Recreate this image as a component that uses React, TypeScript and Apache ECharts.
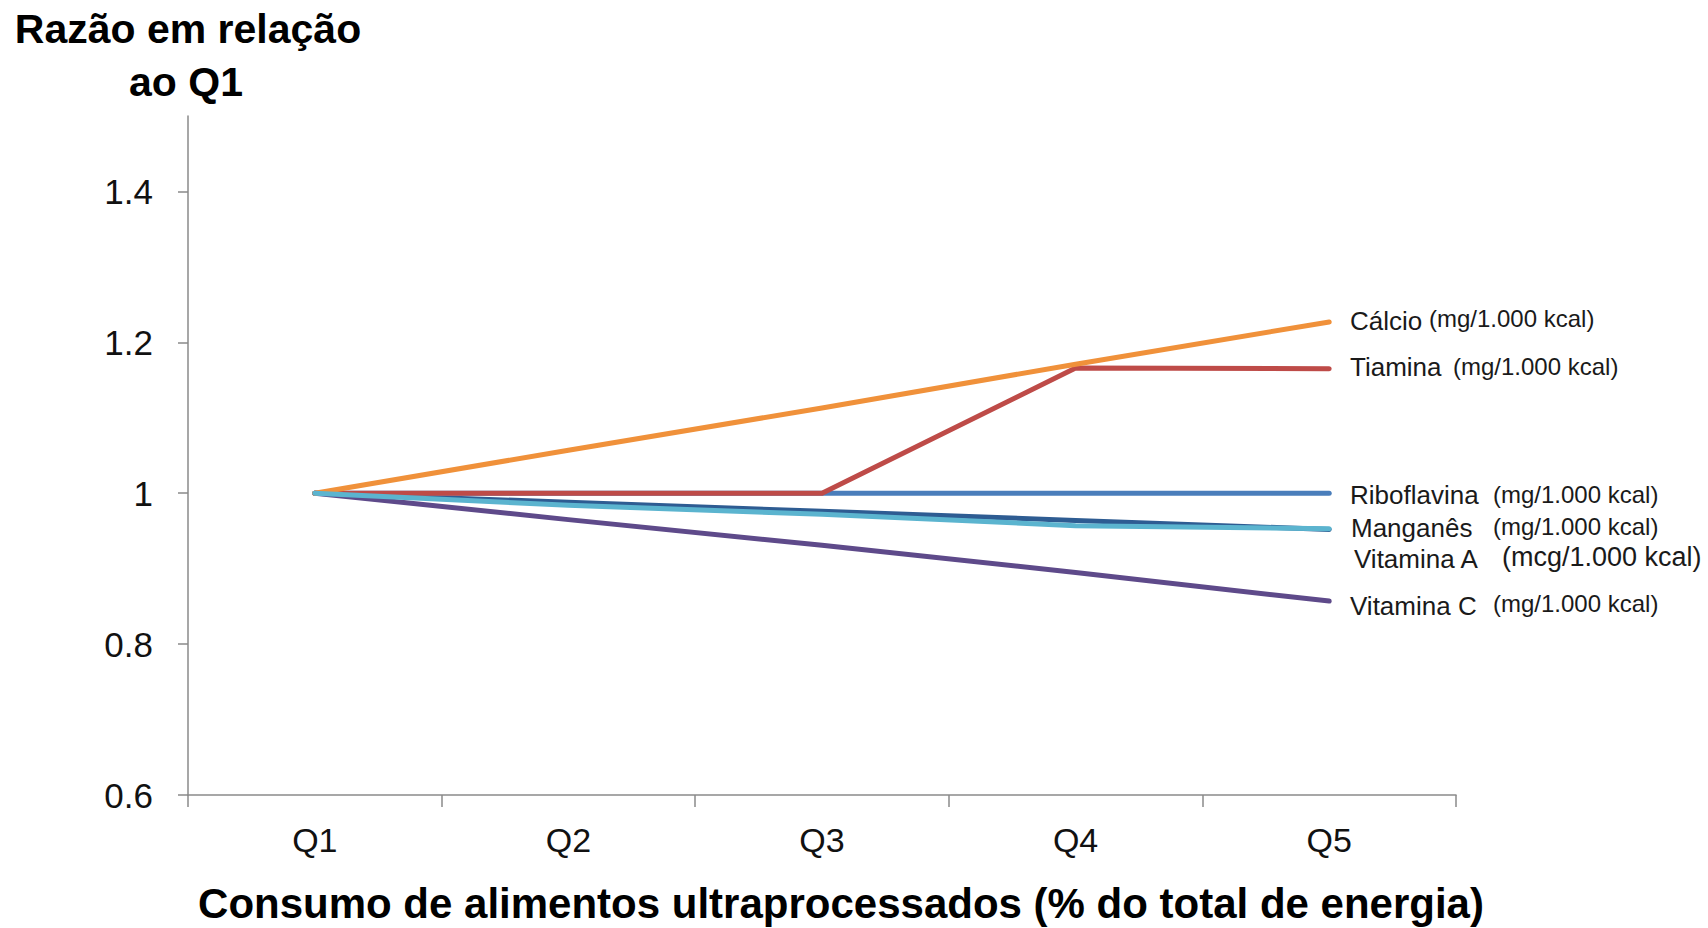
import React, { useEffect, useRef } from "react";
import * as echarts from "echarts";

const categories = ["Q1", "Q2", "Q3", "Q4", "Q5"];
const yTicks = [0.6, 0.8, 1, 1.2, 1.4];

const calcio = [1, 1.057, 1.113, 1.171, 1.227];
const tiamina = [1, 1, 1, 1.166, 1.165];
const riboflavina = [1, 1, 1, 1, 1];
const manganes = [1, 0.984, 0.972, 0.957, 0.953];
const vitaminaA = [1, 0.988, 0.976, 0.964, 0.952];
const vitaminaC = [1, 0.965, 0.931, 0.895, 0.857];

const seriesNames = ["Cálcio", "Tiamina", "Riboflavina", "Manganês", "Vitamina A", "Vitamina C"];
const seriesUnits = [
  "(mg/1.000 kcal)",
  "(mg/1.000 kcal)",
  "(mg/1.000 kcal)",
  "(mg/1.000 kcal)",
  "(mcg/1.000 kcal)",
  "(mg/1.000 kcal)",
];

const FONT = "'Liberation Sans', Arial, Helvetica, sans-serif";

export default function App() {
  const ref = useRef<HTMLDivElement>(null);

  useEffect(() => {
    if (!ref.current) return;
    const chart = echarts.init(ref.current, undefined, { renderer: "svg" });

    const mk = (name: string, data: number[], color: string, z: number) => ({
      name,
      type: "line",
      data,
      symbol: "none",
      z,
      lineStyle: { color, width: 5, cap: "round", join: "round" },
      itemStyle: { color },
    });

    // label layout (annotation text positions)
    const labelPos = [
      { nx: 1350, ux: 1429, y: 321, uy: 318, us: 24 },
      { nx: 1350, ux: 1453, y: 367, uy: 366, us: 24 },
      { nx: 1350, ux: 1493, y: 495, uy: 494, us: 24 },
      { nx: 1351, ux: 1493, y: 528, uy: 526, us: 24 },
      { nx: 1354, ux: 1502, y: 559, uy: 557, us: 27 },
      { nx: 1350, ux: 1493, y: 606, uy: 603, us: 24 },
    ];

    const labelGraphics: any[] = [];
    seriesNames.forEach((n, i) => {
      const p = labelPos[i];
      labelGraphics.push({
        type: "text",
        x: p.nx,
        y: p.y,
        style: {
          text: n,
          font: `26px ${FONT}`,
          fill: "#1a1a1a",
          textAlign: "left",
          textVerticalAlign: "middle",
        },
      });
      labelGraphics.push({
        type: "text",
        x: p.ux,
        y: p.uy,
        style: {
          text: seriesUnits[i],
          font: `${p.us}px ${FONT}`,
          fill: "#1a1a1a",
          textAlign: "left",
          textVerticalAlign: "middle",
        },
      });
    });

    chart.setOption({
      animation: false,
      backgroundColor: "#ffffff",
      grid: { left: 188, right: 252, top: 116, bottom: 133, containLabel: false },
      xAxis: {
        type: "category",
        data: categories,
        boundaryGap: true,
        axisLine: { show: true, lineStyle: { color: "#8a8a8a", width: 1.5 } },
        axisTick: { show: true, length: 12, interval: 0, lineStyle: { color: "#8a8a8a", width: 1.5 } },
        axisLabel: { fontSize: 34, fontFamily: FONT, color: "#111", margin: 28, interval: 0 },
        splitLine: { show: false },
      },
      yAxis: {
        type: "value",
        min: 0.6,
        max: 1.5,
        interval: 0.1,
        axisLine: { show: true, lineStyle: { color: "#8a8a8a", width: 1.5 } },
        axisTick: {
          show: true,
          length: 10,
          inside: false,
          customValues: yTicks,
          lineStyle: { color: "#8a8a8a", width: 1.5 },
        },
        axisLabel: {
          fontSize: 35,
          fontFamily: FONT,
          color: "#111",
          margin: 35,
          customValues: yTicks,
          formatter: (v: number) => String(Math.round(v * 10) / 10),
        },
        splitLine: { show: false },
      },
      series: [
        mk("Vitamina C", vitaminaC, "#5E4A8A", 2),
        mk("Vitamina A", vitaminaA, "#2E5C92", 3),
        mk("Riboflavina", riboflavina, "#4A7EBB", 4),
        mk("Tiamina", tiamina, "#BE4B48", 5),
        mk("Cálcio", calcio, "#F0913A", 6),
        mk("Manganês", manganes, "#5BB4CF", 7),
      ],
      graphic: [
        {
          type: "text",
          x: 188,
          y: 29,
          style: {
            text: "Razão em relação",
            font: `bold 41px ${FONT}`,
            fill: "#000",
            textAlign: "center",
            textVerticalAlign: "middle",
          },
        },
        {
          type: "text",
          x: 186,
          y: 82,
          style: {
            text: "ao Q1",
            font: `bold 41px ${FONT}`,
            fill: "#000",
            textAlign: "center",
            textVerticalAlign: "middle",
          },
        },
        {
          type: "text",
          x: 841,
          y: 903,
          style: {
            text: "Consumo de alimentos ultraprocessados (% do total de energia)",
            font: `bold 42px ${FONT}`,
            fill: "#000",
            textAlign: "center",
            textVerticalAlign: "middle",
          },
        },
        ...labelGraphics,
      ],
    });

    return () => chart.dispose();
  }, []);

  return (
    <div
      ref={ref}
      style={{ position: "fixed", left: 0, top: 0, width: 1708, height: 928, background: "#fff" }}
    />
  );
}
